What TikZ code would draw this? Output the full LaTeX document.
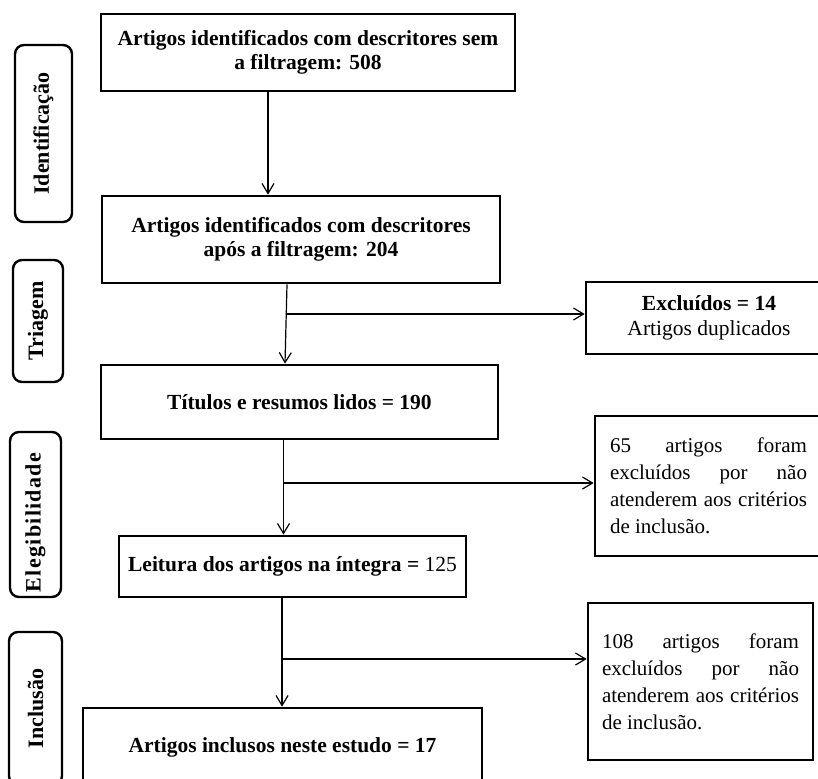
\documentclass[tikz,border=0pt]{standalone}
\usepackage{fontspec}
\setmainfont{Liberation Serif}
\usetikzlibrary{arrows.meta}
\begin{document}
\begin{tikzpicture}[x=1pt,y=-1pt,
  mbox/.style={draw, line width=2.7pt, inner sep=0pt, align=center,
    font=\fontsize{21.5}{24.5}\selectfont\bfseries},
  rbox/.style={draw, line width=2.7pt, inner sep=0pt, text width=197pt, align=justify,
    font=\fontsize{21}{27}\selectfont},
  side/.style={draw, line width=2.4pt, rounded corners=9pt, inner sep=0pt,
    font=\fontsize{22}{24}\selectfont\bfseries},
  arr/.style={line width=1.2pt, -{Straight Barb[length=10pt,width=12pt]}}]
\useasboundingbox (0,0) rectangle (818,778);
\clip (0,0) rectangle (818,778);

% main flow boxes
\node[mbox, minimum width=414pt, minimum height=77pt] (b1) at (308,52.5)
  {Artigos identificados com descritores sem\\a filtragem: 508};
\node[mbox, minimum width=398pt, minimum height=87pt] (b2) at (301,239.5)
  {Artigos identificados com descritores\\após a filtragem: 204};
\node[mbox, minimum width=397pt, minimum height=74pt] (b3) at (299.5,402)
  {Títulos e resumos lidos = 190};
\node[mbox, minimum width=347pt, minimum height=61pt] (b4) at (292.5,566.5)
  {Leitura dos artigos na íntegra = {\mdseries 125}};
\node[mbox, minimum width=399pt, minimum height=78pt] (b5) at (282.5,747)
  {Artigos inclusos neste estudo = 17};

% exclusion boxes
\node[mbox, minimum width=246pt, minimum height=72pt] (ex) at (709,318)
  {Excluídos = 14\\{\mdseries Artigos duplicados}};
\node[rbox, minimum width=227pt, minimum height=140pt] (e65) at (708.5,486)
  {65 artigos foram\linebreak excluídos por não\linebreak atenderem aos critérios\linebreak de inclusão.\par\vspace{23pt}};
\node[rbox, minimum width=225pt, minimum height=157pt] (e108) at (700.5,681.5)
  {108 artigos foram\linebreak excluídos por não\linebreak atenderem aos critérios\linebreak de inclusão.\par\vspace{27pt}};

% side labels
\node[side, minimum width=57pt, minimum height=177pt] (s1) at (43.5,133.5)
  {\rotatebox{90}{Identificação}};
\node[side, minimum width=50pt, minimum height=122pt] (s2) at (38,321)
  {\rotatebox{90}{Triagem}};
\node[side, minimum width=51pt, minimum height=165pt] (s3) at (35.5,514.5)
  {\rotatebox{90}{\addfontfeatures{LetterSpace=6}Elegibilidade\hspace{16pt}}};
\node[side, minimum width=53pt, minimum height=153pt] (s4) at (35.5,708.5)
  {\rotatebox{90}{Inclusão}};

% connectors
\coordinate (v1) at (268,0);
\coordinate (v2a) at (287,0);
\coordinate (v2b) at (285,0);
\coordinate (v3) at (283.5,0);
\coordinate (v4) at (282,0);
\coordinate (h1) at (286.2,314);
\coordinate (h2) at (283.5,483);
\coordinate (h3) at (282,659);

\draw[arr] (b1.south -| v1) -- (b2.north -| v1);
\draw[arr] (b2.south -| v2a) -- (b3.north -| v2b);
\draw[arr] (h1) -- (h1 -| ex.west);
\draw[arr] (b3.south -| v3) -- (b4.north -| v3);
\draw[arr] (h2) -- (h2 -| e65.west);
\draw[arr] (b4.south -| v4) -- (b5.north -| v4);
\draw[arr] (h3) -- (h3 -| e108.west);
\end{tikzpicture}
\end{document}
